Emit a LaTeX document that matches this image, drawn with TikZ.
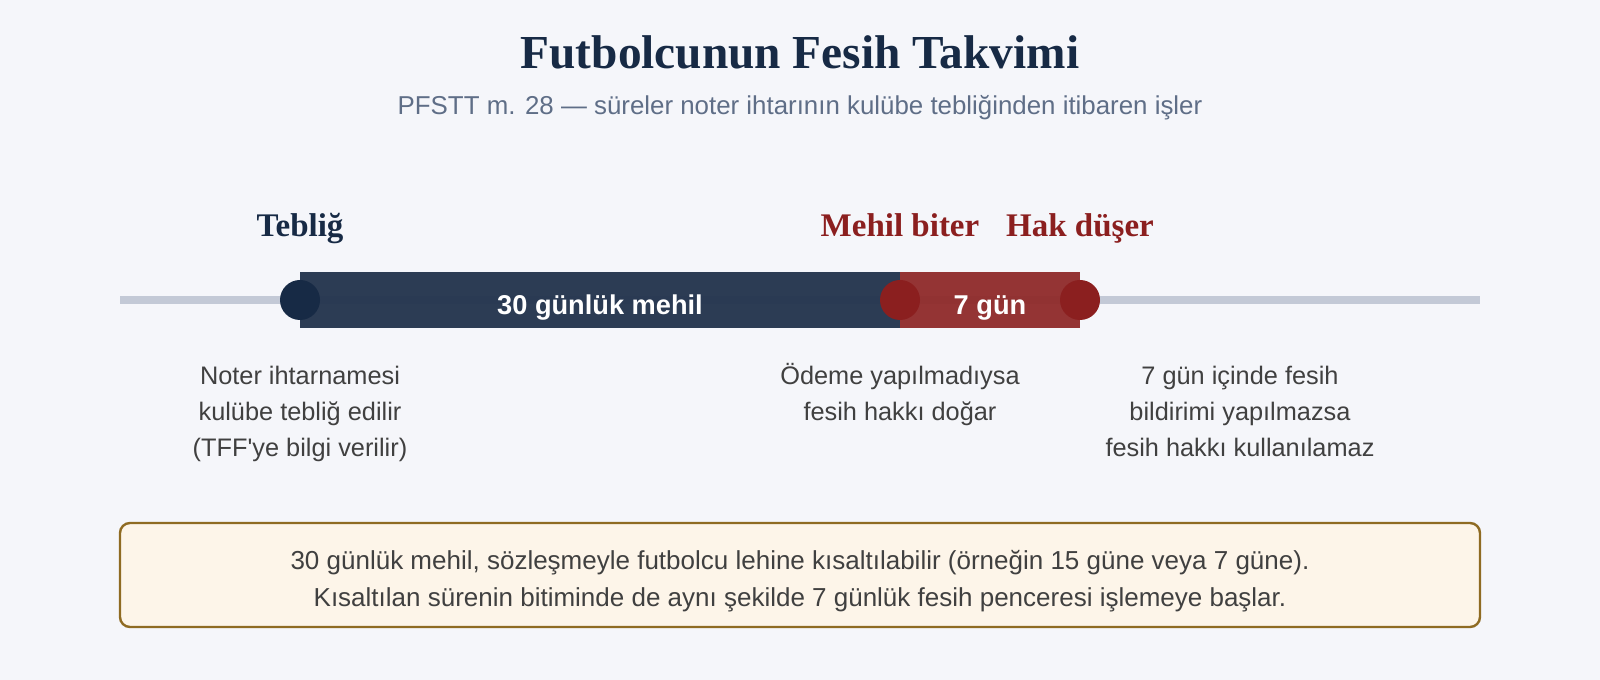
\documentclass[tikz,border=0pt]{standalone}
\usepackage{fontspec}
\setmainfont{Liberation Serif}
\setsansfont{Liberation Sans}
\usetikzlibrary{positioning}

\definecolor{bgcol}{HTML}{F5F6FA}
\definecolor{navy}{HTML}{172A45}
\definecolor{barnavy}{HTML}{22334C}
\definecolor{darkred}{HTML}{8B1F1F}
\definecolor{barred}{HTML}{8F2A2A}
\definecolor{linegray}{HTML}{C3C9D6}
\definecolor{subgray}{HTML}{5F6E87}
\definecolor{desctext}{HTML}{404040}
\definecolor{notefill}{HTML}{FDF5E9}
\definecolor{notedraw}{HTML}{8F6B22}

\tikzset{
  datum/.style={circle,inner sep=0pt,minimum size=30pt},
  toplabel/.style={anchor=base,font=\bfseries\fontsize{24.75}{28}\selectfont},
  bartext/.style={font=\sffamily\bfseries\fontsize{20.4}{24}\selectfont,text=white},
  desc/.style={font=\sffamily\fontsize{19}{27}\selectfont,text=desctext,align=center},
  notebox/.style={draw=notedraw,fill=notefill,line width=1.8pt,rounded corners=7.5pt,
        minimum width=1020pt,minimum height=78pt},
}

\begin{document}
\begin{tikzpicture}[x=0.75pt,y=-0.75pt]
  \fill[bgcol](0,0) rectangle (1600,680);
  \useasboundingbox (0,0) rectangle (1600,680);
  % baslik
  \node[anchor=base,font=\bfseries\fontsize{35.5}{40}\selectfont,text=navy] (title) at (800,69) {Futbolcunun Fesih Takvimi};
  \node[anchor=base,font=\sffamily\fontsize{19.4}{24}\selectfont,text=subgray] (subtitle) at (800,115) {PFSTT m. 28 — süreler noter ihtarının kulübe tebliğinden itibaren işler};
  % zaman cizgisi
  \coordinate (lstart) at (120,300);\coordinate (lend) at (1480,300);
  \draw[linegray,line width=6pt](lstart)--(lend);
  \fill[barnavy,opacity=0.95](300,272) rectangle (900,328);
  \fill[barred,opacity=0.95](900,272) rectangle (1080,328);
  \node[datum,fill=navy] (teblig) at (300,300){};
  \node[datum,fill=darkred] (mehil) at (900,300){};
  \node[datum,fill=darkred] (hak) at (1080,300){};
  \node[bartext] (otuz) at (600,308){30 günlük mehil};
  \node[bartext] (yedi) at (990,308){7 gün};
  % ustteki etiketler
  \node[toplabel,text=navy] (tebligl) at (300,237){Tebliğ};
  \node[toplabel,text=darkred] (mehill) at (900,237){Mehil biter};
  \node[toplabel,text=darkred] (hakl) at (1080,237){Hak düşer};
  % alttaki aciklamalar
  \node[desc] (tebligd) at (300,414){Noter ihtarnamesi\\kulübe tebliğ edilir\\(TFF\textquotesingle ye bilgi verilir)};
  \node[desc] (mehild) at (900,395){Ödeme yapılmadıysa\\fesih hakkı doğar};
  \node[desc] (hakd) at (1240,411){7 gün içinde fesih\\bildirimi yapılmazsa\\fesih hakkı kullanılamaz};
  % not kutusu
  \node[notebox] (note) at (800,575){};
  \node[font=\sffamily\fontsize{19.5}{27.75}\selectfont,text=desctext,align=center] (notetxt) at (800,581)
        {30 günlük mehil, sözleşmeyle futbolcu lehine kısaltılabilir (örneğin 15 güne veya 7 güne).\\Kısaltılan sürenin bitiminde de aynı şekilde 7 günlük fesih penceresi işlemeye başlar.};
\end{tikzpicture}
\end{document}
